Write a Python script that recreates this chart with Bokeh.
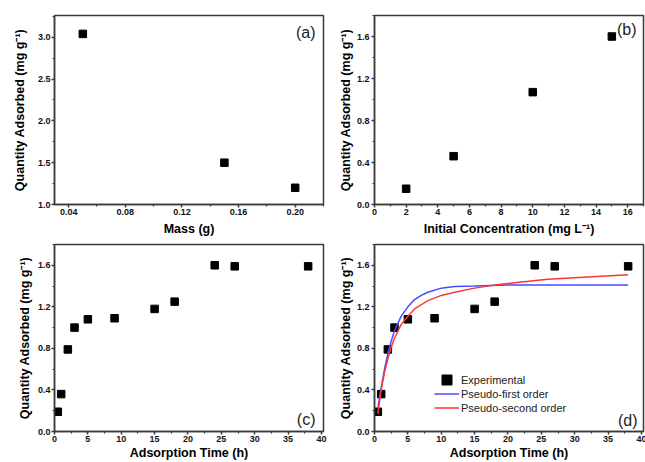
from bokeh.plotting import figure
from bokeh.layouts import gridplot
from bokeh.models import (FixedTicker, PrintfTickFormatter, Range1d, Label,
                          Legend, LegendItem)
from bokeh.embed import file_html
from bokeh.resources import INLINE

# ---------------- data ----------------
mass_g = [0.05, 0.15, 0.20]
q_mass = [3.04, 1.50, 1.20]

conc_mgL = [2, 5, 10, 15]
q_conc = [0.15, 0.46, 1.07, 1.60]

time_h = [0.5, 1, 2, 3, 5, 9, 15, 18, 24, 27, 38]
q_time = [0.19, 0.36, 0.79, 1.00, 1.08, 1.09, 1.18, 1.25, 1.60, 1.59, 1.59]

# fitted curves
pfo_t = [0.5, 0.75, 1, 1.5, 2, 2.5, 3, 4, 5, 6, 7, 8, 10, 12, 15, 20, 25, 30, 38]
pfo_q = [0.22, 0.33, 0.42, 0.60, 0.75, 0.87, 0.97, 1.11, 1.20, 1.27, 1.31, 1.34,
         1.38, 1.395, 1.40, 1.41, 1.41, 1.41, 1.41]
pso_t = [0.5, 0.75, 1, 1.5, 2, 2.5, 3, 4, 5, 6, 8, 10, 12, 15, 18, 22, 26, 30, 34, 38]
pso_q = [0.17, 0.29, 0.40, 0.57, 0.70, 0.81, 0.90, 1.03, 1.11, 1.18, 1.26, 1.31,
         1.34, 1.38, 1.41, 1.44, 1.465, 1.48, 1.495, 1.51]

# tick values
a_xticks = [0.04, 0.08, 0.12, 0.16, 0.20]
a_xminor = [0.06, 0.10, 0.14, 0.18, 0.22]
a_yticks = [1.0, 1.5, 2.0, 2.5, 3.0]
a_yminor = [1.25, 1.75, 2.25, 2.75, 3.25]
b_xticks = [0, 2, 4, 6, 8, 10, 12, 14, 16]
b_xminor = [1, 3, 5, 7, 9, 11, 13, 15, 17]
b_yticks = [0.0, 0.4, 0.8, 1.2, 1.6]
b_yminor = [0.2, 0.6, 1.0, 1.4, 1.8]
t_xticks = [0, 5, 10, 15, 20, 25, 30, 35, 40]
t_xminor = [2.5, 7.5, 12.5, 17.5, 22.5, 27.5, 32.5, 37.5]
t_yticks = [0.0, 0.4, 0.8, 1.2, 1.6]
t_yminor = [0.2, 0.6, 1.0, 1.4, 1.8]

FONT = "Liberation Sans"
AX_COL = "#3a3a3a"
YTITLE = "Quantity Adsorbed (mg g\u207b\u00b9)"


def make_fig(xr, yr, xt, xm, yt, ym, xfmt, yfmt, xlabel, fw, fh, borders,
             ylab_standoff, ytick_standoff, xlab_standoff):
    bl, br, bt, bb = borders
    p = figure(output_backend="svg", toolbar_location=None,
               frame_width=fw, frame_height=fh,
               x_range=Range1d(*xr), y_range=Range1d(*yr),
               min_border_left=bl, min_border_right=br,
               min_border_top=bt, min_border_bottom=bb)
    p.grid.visible = False
    p.outline_line_color = AX_COL
    p.outline_line_width = 1.5
    p.background_fill_color = "white"
    p.border_fill_color = "white"
    p.xaxis.ticker = FixedTicker(ticks=xt, minor_ticks=xm)
    p.yaxis.ticker = FixedTicker(ticks=yt, minor_ticks=ym)
    p.xaxis.formatter = PrintfTickFormatter(format=xfmt)
    p.yaxis.formatter = PrintfTickFormatter(format=yfmt)
    for ax in (p.xaxis[0], p.yaxis[0]):
        ax.axis_line_color = AX_COL
        ax.axis_line_width = 1.5
        ax.major_tick_line_color = AX_COL
        ax.major_tick_line_width = 1.5
        ax.minor_tick_line_color = AX_COL
        ax.minor_tick_line_width = 1.2
        ax.major_tick_in = 0
        ax.major_tick_out = 3
        ax.minor_tick_in = 0
        ax.minor_tick_out = 2
        ax.major_label_text_font = FONT
        ax.major_label_text_font_style = "bold"
        ax.major_label_text_font_size = "9px"
        ax.major_label_text_color = "#111111"
        ax.axis_label_text_font = FONT
        ax.axis_label_text_font_style = "bold"
        ax.axis_label_text_font_size = "12.5px"
        ax.axis_label_text_color = "#000000"
    p.xaxis.axis_label = xlabel
    p.xaxis.major_label_standoff = 1
    p.xaxis.axis_label_standoff = xlab_standoff
    p.yaxis.axis_label = YTITLE
    p.yaxis.major_label_standoff = ytick_standoff
    p.yaxis.axis_label_standoff = ylab_standoff
    return p


def panel_label(p, txt, dx, dy, top, fw, fh):
    y = fh - dy if top else dy
    p.add_layout(Label(x=fw - dx, y=y, x_units="screen", y_units="screen",
                       text=txt, text_align="right", text_baseline="middle",
                       text_font=FONT, text_font_size="16px", text_color="#222222"))


FW = 269
FH1, FH2 = 189, 187

pa = make_fig((0.03, 0.22), (1.0, 3.26), a_xticks, a_xminor, a_yticks, a_yminor,
              "%.2f", "%.1f", "Mass (g)", FW, FH1, (54, 12, 15, 33), 8, 1, 4)
pa.scatter(mass_g, q_mass, marker="square", size=7.5, color="black")
panel_label(pa, "(a)", 8, 17, True, FW, FH1)

pb = make_fig((0, 17), (0, 1.8), b_xticks, b_xminor, b_yticks, b_yminor,
              "%d", "%.1f", "Initial Concentration (mg L\u207b\u00b9)", FW, FH1,
              (37, 4, 15, 33), 1, 2, 4)
pb.scatter(conc_mgL, q_conc, marker="square", size=7.5, color="black")
panel_label(pb, "(b)", 7, 14, True, FW, FH1)

pc = make_fig((0, 40.3), (0, 1.8), t_xticks, t_xminor, t_yticks, t_yminor,
              "%d", "%.1f", "Adsorption Time (h)", FW, FH2, (54, 12, 6, 31), 3, 1, 1)
pc.scatter(time_h, q_time, marker="square", size=7.5, color="black")
panel_label(pc, "(c)", 8, 12, False, FW, FH2)

pd_ = make_fig((0, 40.3), (0, 1.8), t_xticks, t_xminor, t_yticks, t_yminor,
               "%d", "%.1f", "Adsorption Time (h)", FW, FH2, (37, 4, 6, 31), 1, 2, 1)
r_exp = pd_.scatter(time_h, q_time, marker="square", size=7.5, color="black")
r_pfo = pd_.line(pfo_t, pfo_q, line_color="#4a4aff", line_width=1.5)
r_pso = pd_.line(pso_t, pso_q, line_color="#ff3535", line_width=1.5)
panel_label(pd_, "(d)", 6, 11, False, FW, FH2)

common = dict(padding=0, margin=0, border_line_color=None, background_fill_alpha=0,
              glyph_width=25, label_standoff=2, label_text_font=FONT,
              label_text_font_size="11px", label_text_color="#222222", spacing=1)
leg1 = Legend(items=[LegendItem(label="Experimental", renderers=[r_exp])],
              location=(60, 39), glyph_height=25, label_height=13, **common)
leg2 = Legend(items=[LegendItem(label="Pseudo-first order", renderers=[r_pfo]),
                     LegendItem(label="Pseudo-second order", renderers=[r_pso])],
              location=(60, 17), glyph_height=13, label_height=13, **common)
pd_.add_layout(leg1)
pd_.add_layout(leg2)

grid = gridplot([[pa, pb], [pc, pd_]], toolbar_location=None)

open("out.html", "w").write(file_html(grid, INLINE))
